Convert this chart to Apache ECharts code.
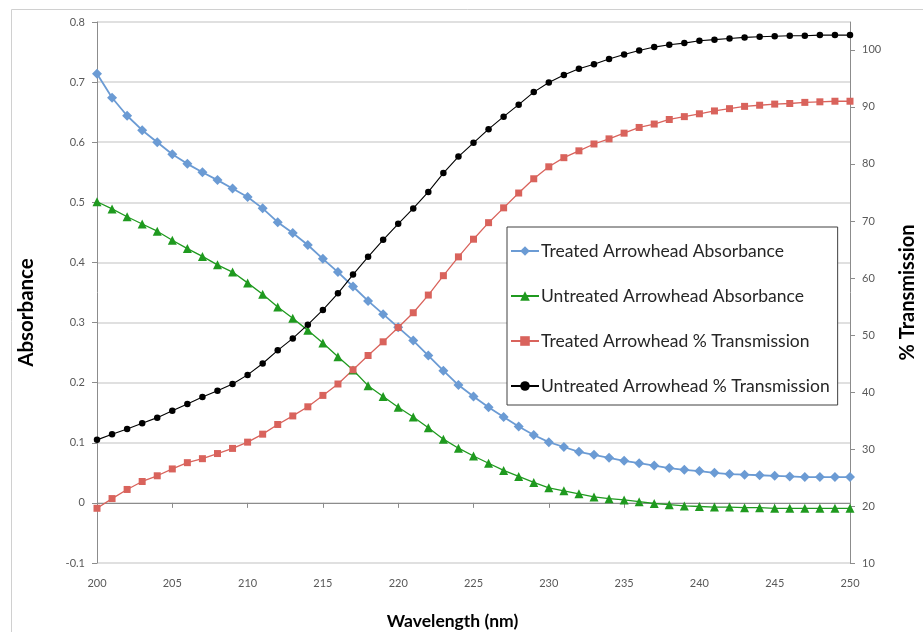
<!DOCTYPE html>
<html>
<head>
<meta charset="utf-8">
<script src="https://cdn.jsdelivr.net/npm/echarts@6/dist/echarts.min.js"></script>
<style>
html,body{margin:0;padding:0;background:#fff;}
#chart{width:923px;height:632px;}
</style>
</head>
<body>
<div id="chart"></div>
<script>
var wavelength = [200,201,202,203,204,205,206,207,208,209,210,211,212,213,214,215,216,217,218,219,220,221,222,223,224,225,226,227,228,229,230,231,232,233,234,235,236,237,238,239,240,241,242,243,244,245,246,247,248,249,250];

var treatedAbsorbance = [0.714,0.674,0.644,0.620,0.600,0.580,0.564,0.550,0.537,0.523,0.509,0.490,0.467,0.449,0.429,0.406,0.384,0.360,0.336,0.314,0.292,0.270,0.245,0.220,0.196,0.177,0.159,0.143,0.127,0.113,0.101,0.093,0.085,0.080,0.075,0.070,0.066,0.062,0.058,0.055,0.053,0.050,0.048,0.047,0.046,0.045,0.044,0.043,0.043,0.043,0.043];

var untreatedAbsorbance = [0.501,0.489,0.476,0.464,0.452,0.437,0.423,0.410,0.396,0.384,0.366,0.347,0.326,0.307,0.287,0.266,0.243,0.221,0.195,0.177,0.159,0.143,0.125,0.106,0.091,0.078,0.066,0.054,0.044,0.034,0.025,0.020,0.015,0.010,0.007,0.005,0.002,-0.001,-0.003,-0.005,-0.006,-0.007,-0.007,-0.008,-0.008,-0.009,-0.009,-0.009,-0.009,-0.009,-0.009];

var treatedTransmission = [19.6,21.3,22.9,24.3,25.3,26.5,27.6,28.3,29.2,30.1,31.2,32.6,34.3,35.8,37.4,39.4,41.4,43.9,46.4,48.8,51.3,53.9,57.0,60.4,63.7,66.8,69.7,72.3,74.9,77.4,79.5,81.1,82.3,83.5,84.4,85.4,86.4,87.0,87.8,88.3,88.8,89.3,89.7,90.1,90.3,90.5,90.6,90.8,90.9,91.0,91.0];

var untreatedTransmission = [31.6,32.6,33.5,34.5,35.5,36.7,37.9,39.1,40.2,41.4,43.0,45.0,47.3,49.4,51.8,54.4,57.3,60.6,63.7,66.7,69.5,72.2,75.1,78.4,81.3,83.7,86.1,88.3,90.4,92.6,94.3,95.6,96.7,97.5,98.4,99.2,99.9,100.5,100.9,101.2,101.6,101.8,102.0,102.2,102.3,102.4,102.5,102.5,102.6,102.6,102.6];

var transmissionTicks = [10,20,30,40,50,60,70,80,90,100];

function pairs(ys){ return wavelength.map(function(x,i){ return [x, ys[i]]; }); }

var FONT = 'Lato, "Open Sans", sans-serif';
var axisColor = '#8c8c8c';
var labelStyle = { color:'#595959', fontSize:11, fontFamily:FONT };

var chart = echarts.init(document.getElementById('chart'), null, {renderer:'canvas'});
chart.setOption({
  animation:false,
  backgroundColor:'#fff',
  graphic:[{
    type:'rect', left:9, top:7, shape:{width:1000, height:700},
    style:{fill:'none', stroke:'#d0d0d0', lineWidth:1}, silent:true, z:-10
  }],
  grid:{left:97, right:73, top:22, bottom:69, containLabel:false, outerBoundsMode:'none'},
  legend:{
    orient:'vertical', left:507, top:227,
    padding:[15,8,10,3],
    itemGap:27, itemWidth:28, itemHeight:12,
    backgroundColor:'#fff',
    borderColor:'#404040', borderWidth:1,
    textStyle:{fontSize:17.5, color:'#262626', fontFamily:FONT, padding:[0,0,0,-3]},
    data:['Treated Arrowhead Absorbance','Untreated Arrowhead Absorbance','Treated Arrowhead % Transmission','Untreated Arrowhead % Transmission']
  },
  xAxis:{
    type:'value', min:200, max:250, interval:5,
    name:'Wavelength (nm)', nameLocation:'middle', nameGap:49,
    nameTextStyle:{fontSize:17.5, fontWeight:'bold', color:'#000', fontFamily:FONT, padding:[0,42,0,0]},
    axisLine:{lineStyle:{color:axisColor}},
    axisTick:{show:true, length:5, lineStyle:{color:axisColor}},
    axisLabel:Object.assign({margin:15}, labelStyle),
    splitLine:{show:false}
  },
  yAxis:[{
    type:'value', min:-0.1, max:0.8, interval:0.1, position:'left',
    name:'Absorbance', nameLocation:'middle', nameGap:60,
    nameTextStyle:{fontSize:20.5, fontWeight:'bold', color:'#000', fontFamily:FONT, padding:[0,40,0,0]},
    axisLine:{show:true, lineStyle:{color:axisColor}},
    axisTick:{show:true, length:5, lineStyle:{color:axisColor}},
    axisLabel:Object.assign({margin:12, formatter:function(v){ return String(Math.round(v*10)/10); }}, labelStyle),
    splitLine:{show:true, lineStyle:{color:'#d6d6d6', width:1.5}}
  },{
    type:'value', min:10, max:104.9, interval:10, position:'right',
    name:'% Transmission', nameLocation:'middle', nameGap:48,
    nameTextStyle:{fontSize:20, fontWeight:'bold', color:'#000', fontFamily:FONT},
    axisLine:{show:true, lineStyle:{color:axisColor}},
    axisTick:{show:true, length:5, customValues:transmissionTicks, lineStyle:{color:axisColor}},
    axisLabel:Object.assign({margin:12, customValues:transmissionTicks}, labelStyle),
    splitLine:{show:false}
  }],
  series:[{
    name:'Treated Arrowhead Absorbance', type:'line', yAxisIndex:0,
    data:pairs(treatedAbsorbance),
    symbol:'diamond', symbolSize:10,
    itemStyle:{color:'#6b9bd4'}, lineStyle:{color:'#6b9bd4', width:1.8}
  },{
    name:'Untreated Arrowhead Absorbance', type:'line', yAxisIndex:0,
    data:pairs(untreatedAbsorbance),
    symbol:'triangle', symbolSize:9,
    itemStyle:{color:'#1f9a1f'}, lineStyle:{color:'#1f9a1f', width:1.3}
  },{
    name:'Treated Arrowhead % Transmission', type:'line', yAxisIndex:1,
    data:pairs(treatedTransmission),
    symbol:'rect', symbolSize:7,
    itemStyle:{color:'#d9635c'}, lineStyle:{color:'#d9635c', width:1.3}
  },{
    name:'Untreated Arrowhead % Transmission', type:'line', yAxisIndex:1,
    data:pairs(untreatedTransmission),
    symbol:'circle', symbolSize:6.5,
    itemStyle:{color:'#000'}, lineStyle:{color:'#000', width:1.1}
  }]
});
</script>
</body>
</html>
